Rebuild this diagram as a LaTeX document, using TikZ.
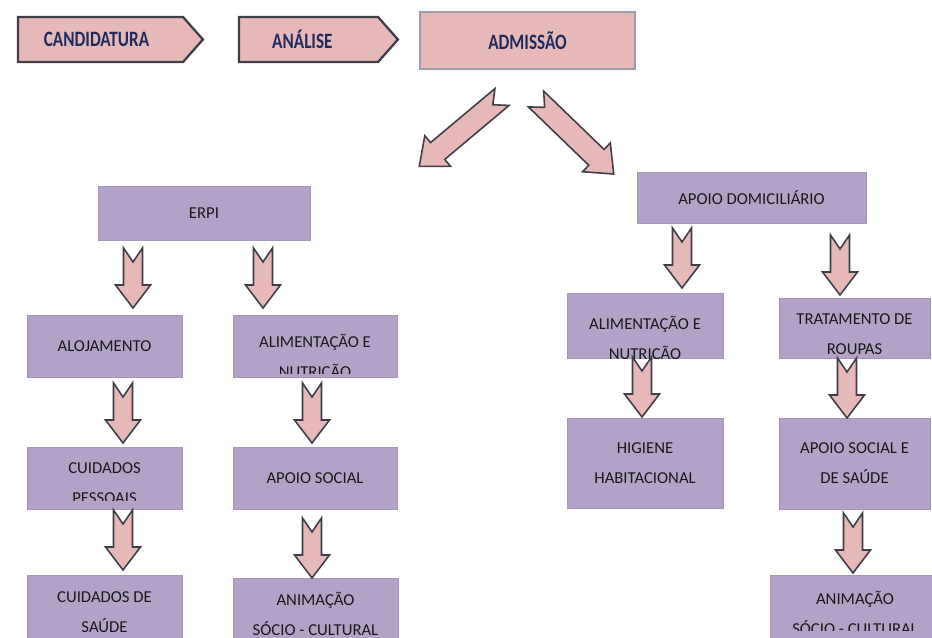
\documentclass[tikz,border=0pt]{standalone}
\usepackage{fontspec}
\setmainfont{Carlito}
\usepackage{graphicx}
\usetikzlibrary{shapes.symbols}

\definecolor{lav}{HTML}{B3A2C7}
\definecolor{lavline}{HTML}{A594BD}
\definecolor{rosa}{HTML}{E6B9B8}
\definecolor{seta}{HTML}{3F3F4A}
\definecolor{navy}{HTML}{1F2B5E}
\definecolor{cinza}{HTML}{9B9BAA}

\tikzset{
  box/.style={draw=lavline, fill=lav, line width=0.4pt, inner sep=0pt, align=center,
    font=\fontsize{9.5}{17}\selectfont, text=black!90},
  lbl/.style={align=center, inner sep=0pt, font=\fontsize{9.5}{17}\selectfont, text=black!90},
  etapa/.style={signal, signal to=east, signal pointer angle=97, draw=seta, line width=1.3pt,
    fill=rosa, inner sep=0pt, minimum height=0.9cm, font=\fontsize{12.5}{14}\selectfont\bfseries, text=navy},
  blk/.style={draw=seta, line width=0.9pt, fill=rosa, line join=miter},
  pics/downarrow/.style={code={
    \draw[blk] (-9.5,0) -- (0,14) -- (9.5,0) -- (9.5,37) -- (17.5,37) -- (0,60) -- (-17.5,37) -- (-9.5,37) -- cycle;
  }},
  pics/slantarrow/.style={code={
    \draw[blk] (0,11) -- (84,11) -- (84,20) -- (108,0) -- (84,-20) -- (84,-11) -- (0,-11) -- (12,0) -- cycle;
  }}
}

\begin{document}
\begin{tikzpicture}[x=0.02cm, y=-0.02cm]
\clip (0,0) rectangle (932,638);

% etapas do processo
\node[etapa, minimum width=3.7cm] (cand) at (100.5,39.5) {\hspace*{-4.5pt}\scalebox{0.78}[1]{CANDIDATURA}};
\node[etapa, minimum width=3.18cm] (anal) at (308.5,39.5) {\hspace*{-7pt}\scalebox{0.78}[1]{ANÁLISE}};
\node[draw=cinza, fill=rosa, line width=1.1pt, minimum width=4.3cm, minimum height=1.14cm,
  font=\fontsize{12.5}{14}\selectfont\bfseries, text=navy] (adm) at (527.5,40.5) {\scalebox{0.78}[1]{ADMISSÃO}};

\pic[rotate=220] at (502,97) {slantarrow};
\pic[rotate=-44] at (536,99) {slantarrow};

% respostas sociais
\node[box, minimum width=4.24cm, minimum height=1.08cm] (erpi) at (204,213) {ERPI};
\node[box, minimum width=4.58cm, minimum height=1.02cm] (apdom) at (751.5,197.5) {APOIO DOMICILIÁRIO};

% ERPI
\node[box, minimum width=3.1cm, minimum height=1.24cm] (aloj) at (104.5,346) {ALOJAMENTO};
\node[box, minimum width=3.28cm, minimum height=1.24cm] (alim) at (315,346) {};
\begin{scope}
\clip (alim.north west) rectangle (397,373);
\node[lbl] (alimt) at (315,357) {ALIMENTAÇÃO E\\NUTRIÇÃO};
\end{scope}
\node[box, minimum width=3.1cm, minimum height=1.24cm] (cuidp) at (104.5,478) {};
\begin{scope}
\clip (cuidp.north west) rectangle (182,500);
\node[lbl] (cuidpt) at (104.5,483.5) {CUIDADOS\\PESSOAIS};
\end{scope}
\node[box, minimum width=3.28cm, minimum height=1.24cm] (apsoc) at (315,478) {APOIO SOCIAL};
\node[box, minimum width=3.1cm, minimum height=1.5cm] (cuids) at (104.5,612.5) {CUIDADOS DE\\SAÚDE};
\node[box, minimum width=3.3cm, minimum height=1.44cm] (anim) at (315.5,614) {ANIMAÇÃO\\SÓCIO - CULTURAL};

% apoio domiciliario
\node[box, minimum width=3.12cm, minimum height=1.3cm] (alimd) at (645,325.5) {};
\begin{scope}
\clip (alimd.north west) rectangle (alimd.south east);
\node[lbl] (alimdt) at (645,339) {ALIMENTAÇÃO E\\NUTRIÇÃO};
\end{scope}
\node[box, minimum width=3.02cm, minimum height=1.2cm] (trat) at (854.5,328) {};
\begin{scope}
\clip (trat.north west) rectangle (930,354);
\node[lbl] (tratt) at (854.5,334) {TRATAMENTO DE\\ROUPAS};
\end{scope}
\node[box, minimum width=3.12cm, minimum height=1.8cm] (hig) at (645,463) {HIGIENE\\HABITACIONAL};
\node[box, minimum width=3.02cm, minimum height=1.82cm] (apsd) at (854.5,463.5) {APOIO SOCIAL E\\DE SAÚDE};
\node[box, minimum width=3.4cm, minimum height=1.5cm] (animd) at (855,612.5) {};
\begin{scope}
\clip (animd.north west) rectangle (940,630);
\node[lbl] (animdt) at (855,612.5) {ANIMAÇÃO\\SÓCIO - CULTURAL};
\end{scope}

% setas
\pic at (133,248) {downarrow};
\pic at (263,248) {downarrow};
\pic at (123,383) {downarrow};
\pic at (312,383) {downarrow};
\pic at (123,510) {downarrow};
\pic at (312,518) {downarrow};
\pic at (682,228) {downarrow};
\pic at (840,235) {downarrow};
\pic at (642,357) {downarrow};
\pic at (847,358) {downarrow};
\pic at (853,513) {downarrow};
\end{tikzpicture}
\end{document}
